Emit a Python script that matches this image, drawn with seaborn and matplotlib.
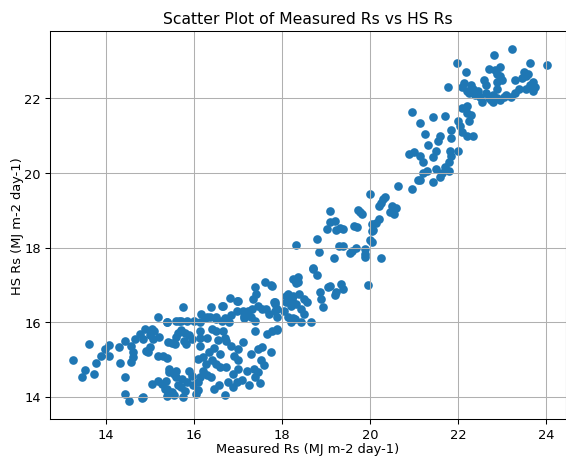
import matplotlib
matplotlib.use("Agg")
import matplotlib.pyplot as plt
import seaborn as sns
import pandas as pd

# values, grouped roughly by x range
measured_rs = [
    13.26, 13.52, 13.46, 13.73, 13.77, 13.62, 13.90, 13.98, 14.08, 14.08, 14.30, 14.32, 14.43, 14.43, 14.52,
    14.83, 14.43, 14.58, 14.62, 14.58, 14.62, 14.66, 14.77, 14.89, 14.85, 15.00, 15.05, 14.92, 15.00, 14.85,
    # 15-16
    15.19, 15.38, 15.60, 15.07, 15.19, 15.38, 15.42, 15.57, 15.44, 15.04, 15.19, 15.27, 15.34, 15.42, 15.38,
    15.50, 15.60, 15.64, 15.76, 15.72, 15.70, 15.80, 15.78, 15.83, 15.60, 15.67, 15.40, 15.85, 15.65, 15.95,
    15.90, 15.50, 15.44, 15.60, 15.36, 15.40, 15.74, 15.55, 15.70, 15.80, 15.85, 15.95, 15.90, 15.55, 15.75,
    15.20, 15.10, 15.30, 14.95,
    # 16-17
    16.17, 16.25, 16.13, 16.30, 16.50, 16.70, 16.80, 16.13, 16.13, 16.30, 16.42, 16.50, 16.66, 16.70, 16.74,
    16.55, 16.63, 16.82, 16.98, 16.98, 16.67, 16.36, 16.50, 16.65, 16.00, 16.10, 16.20, 16.35, 16.27, 16.42,
    16.50, 16.60, 16.74, 16.20, 16.15, 16.30, 16.38, 16.10, 15.98, 16.10, 16.05, 16.58, 16.78, 16.98, 16.90,
    16.92, 17.00, 17.00, 16.45, 16.60, 16.85, 16.45, 16.70, 16.90, 16.40, 16.85, 16.15,
    # 17-18
    17.00, 17.12, 17.20, 17.33, 17.45, 17.55, 17.70, 17.85, 17.85, 17.90, 17.15, 17.30, 17.40, 17.38, 17.66,
    17.77, 17.88, 17.12, 17.45, 17.55, 17.76, 17.30, 17.52, 17.00, 17.20, 17.36, 17.40, 17.50, 17.35, 17.40,
    17.42, 17.61, 17.76, 17.82, 17.63, 17.23, 17.15, 17.77, 17.84, 17.88, 17.90, 17.25, 17.10, 17.60, 17.45,
    # 18-19
    18.10, 18.22, 18.25, 18.26, 18.33, 18.10, 18.23, 18.20, 18.15, 18.20, 18.37, 18.30, 18.37, 18.71, 18.80,
    18.87, 18.90, 18.94, 18.14, 18.25, 18.40, 18.50, 18.57, 18.33, 18.44, 18.50, 18.30, 18.44, 18.66, 18.32,
    18.85, 18.80, 18.70, 18.05,
    # 19-20
    19.09, 19.24, 19.35, 19.18, 19.09, 19.10, 19.20, 19.02, 19.23, 19.33, 19.30, 19.55, 19.68, 19.90, 19.90,
    19.64, 19.73, 19.82, 19.78, 19.96, 19.05, 19.40, 19.20, 19.40, 19.40, 19.70, 19.60, 19.90,
    # 20-21
    20.00, 20.05, 20.08, 20.00, 20.05, 20.25, 20.20, 20.30, 20.25, 20.35, 20.20, 20.45, 20.50, 20.60, 20.55,
    20.64, 20.95, 21.10, 21.30, 20.15, 20.06,
    # 21-22
    21.14, 21.44, 21.60, 21.63, 21.80, 21.70, 21.50, 21.20, 21.20, 21.15, 20.90, 21.00, 21.44, 21.32, 21.50,
    21.55, 21.60, 21.25, 21.14, 20.95, 21.44, 21.70, 21.85, 21.85, 21.80, 21.85, 21.82, 22.00, 21.78, 21.98,
    # 22-23
    22.10, 22.20, 22.18, 22.15, 22.25, 22.30, 22.40, 22.35, 22.45, 22.10, 22.20, 22.20, 22.25, 22.00, 22.05,
    22.10, 22.20, 22.35, 22.30, 22.60, 22.65, 22.65, 22.80, 22.75, 22.90, 23.05, 23.10, 22.90, 22.83, 22.70,
    22.85, 22.95, 22.88, 22.95, 22.90, 23.00, 22.70, 22.50, 22.55, 22.80, 22.95,
    # >23
    23.22, 23.64, 24.03, 23.30, 23.45, 23.55, 23.70, 23.65, 23.75, 23.40, 23.30, 23.55, 23.70, 23.20, 23.50,
    23.60,
]

hs_rs = [
    14.97, 14.72, 14.54, 14.60, 14.90, 15.41, 15.10, 15.28, 15.39, 15.08, 15.34, 14.90, 14.52, 14.07, 13.89,
    13.96, 15.50, 15.37, 15.19, 14.92, 15.05, 15.55, 15.68, 15.82, 15.55, 15.64, 15.82, 15.23, 15.33, 14.00,
    # 15-16
    16.13, 15.99, 16.04, 15.55, 15.10, 15.03, 15.46, 15.42, 14.67, 14.34, 14.43, 14.34, 14.21, 14.12, 14.01,
    14.12, 14.52, 14.30, 16.40, 16.04, 15.80, 15.72, 15.50, 15.41, 15.60, 16.04, 16.00, 16.04, 15.70, 15.55,
    15.65, 15.45, 14.75, 14.70, 14.43, 14.20, 14.48, 14.60, 14.25, 14.15, 14.40, 14.55, 14.70, 14.05, 14.00,
    15.60, 15.75, 15.08, 15.20,
    # 16-17
    16.22, 16.10, 16.00, 16.13, 16.13, 16.10, 16.00, 15.75, 15.57, 15.57, 15.82, 15.75, 15.75, 15.57, 15.48,
    15.53, 16.44, 16.65, 16.57, 16.30, 16.42, 16.13, 16.08, 16.04, 16.04, 15.00, 15.06, 15.19, 14.88, 14.97,
    14.88, 14.79, 14.79, 14.70, 14.52, 14.57, 14.52, 14.39, 14.30, 14.17, 14.08, 14.32, 14.39, 14.39, 14.61,
    15.10, 15.28, 14.97, 15.30, 15.15, 15.35, 14.20, 14.05, 14.25, 16.40, 16.20, 15.35,
    # 17-18
    16.57, 16.31, 16.26, 16.35, 16.44, 16.35, 16.22, 16.48, 16.30, 16.13, 16.10, 16.13, 16.04, 15.77, 15.68,
    15.77, 15.82, 15.46, 15.28, 15.33, 15.20, 15.15, 14.97, 14.75, 14.70, 14.75, 14.52, 14.36, 16.62, 16.93,
    16.75, 17.07, 17.00, 16.55, 16.35, 16.30, 16.17, 16.98, 16.53, 16.35, 15.80, 14.30, 14.45, 14.85, 14.65,
    # 18-19
    16.53, 16.44, 16.10, 17.15, 17.06, 16.70, 16.60, 16.50, 16.13, 16.00, 17.20, 17.12, 17.08, 17.42, 17.25,
    16.80, 16.62, 16.40, 16.75, 16.70, 16.75, 16.62, 16.53, 16.48, 16.35, 16.22, 16.08, 16.00, 16.00, 18.07,
    17.87, 18.23, 17.44, 16.30,
    # 19-20
    16.98, 16.80, 17.03, 17.73, 18.99, 18.68, 18.70, 18.50, 18.48, 18.52, 18.05, 17.84, 17.98, 17.95, 17.82,
    18.57, 19.00, 18.90, 18.95, 17.00, 16.95, 16.90, 16.72, 18.50, 18.03, 18.55, 17.90, 17.75,
    # 20-21
    19.43, 18.63, 18.48, 18.21, 18.15, 17.73, 19.10, 19.30, 19.20, 19.35, 18.77, 18.95, 19.10, 19.05, 18.90,
    19.66, 19.58, 19.80, 20.05, 18.67, 18.44,
    # 21-22
    19.80, 19.77, 19.90, 20.00, 20.05, 20.15, 20.10, 20.00, 20.30, 20.45, 20.50, 20.55, 20.44, 20.75, 20.60,
    20.85, 21.00, 21.04, 21.33, 21.64, 21.50, 21.53, 21.15, 20.93, 20.30, 20.45, 20.60, 20.60, 22.30, 22.95,
    # 22-23
    22.30, 22.20, 22.70, 22.40, 22.15, 22.35, 22.10, 22.25, 22.20, 21.75, 21.80, 21.60, 21.40, 21.40, 21.25,
    21.10, 21.00, 21.00, 21.55, 22.50, 22.35, 22.15, 22.10, 21.95, 22.00, 22.05, 22.10, 22.25, 23.16, 22.80,
    22.75, 22.85, 22.65, 22.60, 22.45, 22.50, 22.00, 22.05, 21.90, 21.90, 21.95,
    # >23
    23.32, 22.96, 22.90, 22.50, 22.55, 22.60, 22.45, 22.35, 22.30, 22.25, 22.15, 22.25, 22.20, 22.05, 22.70,
    22.65,
]

df = pd.DataFrame({"Measured": measured_rs, "HS": hs_rs})

# reference looks like a default 100-dpi figure shrunk a bit, so use a lower dpi
fig, ax = plt.subplots(figsize=(6.03, 4.87), dpi=94)
sns.scatterplot(data=df, x="Measured", y="HS", ax=ax, s=44, color="#1f77b4", linewidth=0)
ax.set_xlim(12.73, 24.45)
ax.set_ylim(13.40, 23.80)
ax.set_title("Scatter Plot of Measured Rs vs HS Rs")
ax.set_xlabel("Measured Rs (MJ m-2 day-1)", labelpad=1)
ax.set_ylabel("HS Rs (MJ m-2 day-1)", labelpad=0)
ax.grid(True)
plt.subplots_adjust(left=0.088, right=0.998, top=0.93, bottom=0.083)
plt.savefig("out.png", dpi=94)
